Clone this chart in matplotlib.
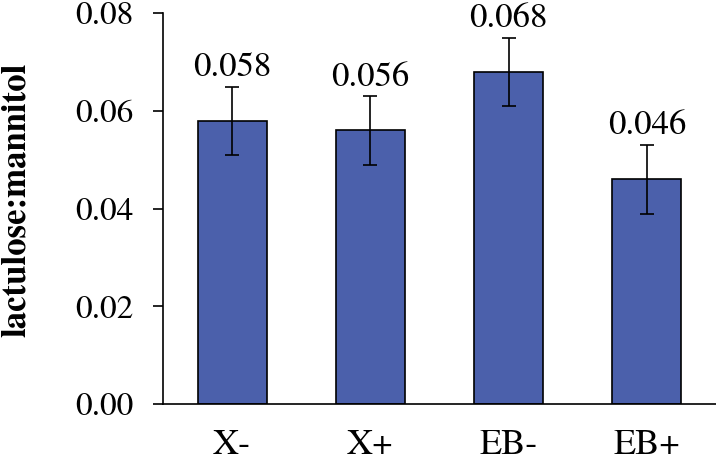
import numpy as np
import matplotlib.pyplot as plt

plt.rcParams['font.family'] = ['TeX Gyre Termes', 'Liberation Serif', 'DejaVu Serif']

# data
groups = ['X-', 'X+', 'EB-', 'EB+']
ratio = [0.058, 0.056, 0.068, 0.046]
err = [0.007, 0.007, 0.007, 0.007]
value_labels = ['0.058', '0.056', '0.068', '0.046']

fig = plt.figure(figsize=(7.16, 4.57), dpi=100)
ax = fig.add_axes([0.2277, 0.116, 0.7723, 0.855])

x = np.arange(len(groups))
bars = ax.bar(x, ratio, 0.5, color='#4B60AB', edgecolor='black', linewidth=1.2,
              yerr=err, capsize=5, error_kw={'elinewidth': 1.2, 'capthick': 1.2})

for xi, v, e, lab in zip(x, ratio, err, value_labels):
    ax.annotate(lab, (xi, v + e), xytext=(0, 2), textcoords='offset points',
                ha='center', va='bottom', fontsize=25)

ax.set_xlim(-0.5, 3.5)
ax.set_ylim(0, 0.08)
ax.set_yticks(np.arange(0, 0.081, 0.02))
ax.set_yticklabels(['0.00', '0.02', '0.04', '0.06', '0.08'])
ax.set_xticks(x)
ax.set_xticklabels(groups)
ax.tick_params(axis='y', labelsize=24, length=7, width=1.2, direction='out', pad=14)
ax.tick_params(axis='x', labelsize=26, length=0, pad=18)
ax.set_ylabel('lactulose:mannitol', fontsize=25, fontweight='bold')
ax.yaxis.set_label_coords(-0.238, 0.522)

for s in ['top', 'right']:
    ax.spines[s].set_visible(False)
for s in ['left', 'bottom']:
    ax.spines[s].set_linewidth(1.2)

fig.savefig('out.png', dpi=100)
